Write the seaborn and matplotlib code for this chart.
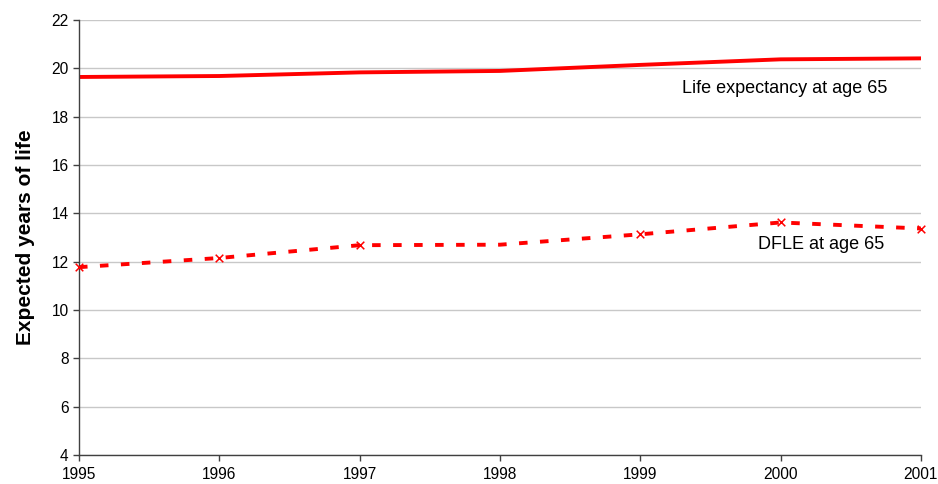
import numpy as np
import pandas as pd
import seaborn as sns
import matplotlib.pyplot as plt

# Values
years = [1995, 1996, 1997, 1998, 1999, 2000, 2001]
life_expectancy = [19.64, 19.68, 19.83, 19.89, 20.14, 20.37, 20.41]
dfle = [11.77, 12.15, 12.68, 12.70, 13.13, 13.62, 13.37]
dfle_marked = [True, True, True, False, True, True, True]

df = pd.DataFrame({"year": years, "le": life_expectancy, "dfle": dfle,
                   "marked": dfle_marked})

sns.set_style("white")
plt.rcParams["font.family"] = ["Liberation Sans", "DejaVu Sans"]
plt.rcParams["text.color"] = "black"

fig = plt.figure(figsize=(9.38, 4.84), dpi=100)
ax = fig.add_axes([0.0842, 0.060, 0.8976, 0.8988])

red = "#ff0000"
sns.lineplot(data=df, x="year", y="le", ax=ax, color=red, linewidth=2.8)
sns.lineplot(data=df, x="year", y="dfle", ax=ax, color=red, linewidth=2.8,
             linestyle=(0, (2.2, 3.2)))
sns.scatterplot(data=df[df["marked"]], x="year", y="dfle", ax=ax, color=red,
                marker="x", s=30, linewidth=1.1, zorder=3, clip_on=False)

ax.set_xlim(1995, 2001)
ax.set_ylim(4, 22)
ax.set_xticks(years)
ax.set_yticks(np.arange(4, 23, 2))
ax.grid(axis="y", color="#c8c8c8", linewidth=1.0)
ax.set_axisbelow(True)
for s in ["top", "right"]:
    ax.spines[s].set_visible(False)
for s in ["left", "bottom"]:
    ax.spines[s].set_color("#404040")
    ax.spines[s].set_linewidth(1.0)
ax.tick_params(axis="both", direction="out", length=4, width=1.0,
               color="#404040", labelsize=11.2, labelcolor="black", left=True, bottom=True)
ax.tick_params(axis="x", pad=5)

ax.set_xlabel("")
ax.set_ylabel("Expected years of life", fontsize=15, fontweight="bold",
              color="black", labelpad=12)

ax.text(1999.30, 19.18, "Life expectancy at age 65", fontsize=13, va="center", ha="left")
ax.text(1999.84, 12.70, "DFLE at age 65", fontsize=13, va="center", ha="left")

fig.savefig("out.png", dpi=100)
